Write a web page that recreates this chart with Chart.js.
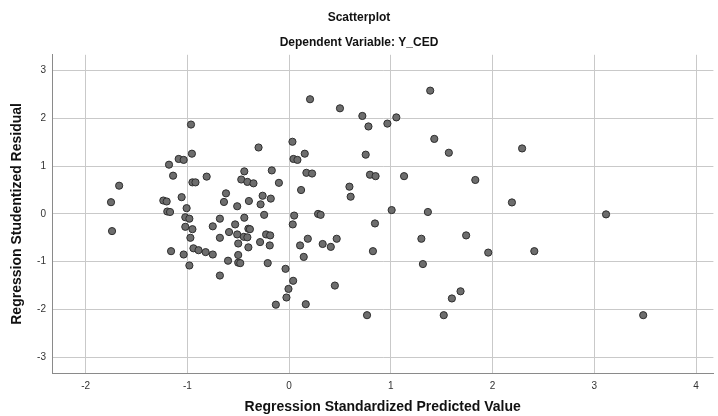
<!DOCTYPE html>
<html>
<head>
<meta charset="utf-8">
<script src="https://cdn.jsdelivr.net/npm/chart.js@4"></script>
<style>
  html, body { margin: 0; padding: 0; background: #fff; }
  #wrap { width: 718px; height: 416px; }
</style>
</head>
<body>
<div id="wrap"><canvas id="scatterChart" width="718" height="416"></canvas></div>
<script>
// standardized predicted value (x) and studentized residual (y)
const predicted = [
  -1.75, -1.67, -1.74, -1.236, -1.203, -1.197, -1.17, -1.18, -1.14, -1.16,
  -1.085, -1.036, -1.056, -1.007, -1.02, -0.98, -1.02, -0.95, -0.97, -1.036,
  -0.94, -0.89, -0.82, -0.75, -0.98, -0.964, -0.955, -0.95, -0.92, -0.81,
  -0.68, -0.75, -0.68, -0.62, -0.64, -0.68, -0.59, -0.60, -0.53, -0.51,
  -0.51, -0.50, -0.50, -0.50, -0.48, -0.47, -0.44, -0.44, -0.445, -0.41,
  -0.41, -0.35, -0.40, -0.385, -0.40, -0.395, -0.30, -0.28, -0.26, -0.245,
  -0.285, -0.226, -0.186, -0.19, -0.21, -0.18, -0.17, -0.10, -0.13, -0.035,
  -0.026, -0.006, 0.04, 0.033, 0.043, 0.082, 0.05, 0.036, 0.118, 0.154,
  0.17, 0.226, 0.108, 0.144, 0.184, 0.164, 0.206, 0.285, 0.31, 0.33,
  0.41, 0.468, 0.45, 0.50, 0.593, 0.605, 0.72, 0.78, 0.753, 0.795,
  0.85, 0.844, 0.824, 0.766, 0.966, 1.054, 1.008, 1.13, 1.30, 1.315,
  1.364, 1.387, 1.427, 1.57, 1.52, 1.60, 1.685, 1.74, 1.83, 1.957,
  2.19, 2.29, 2.41, 3.115, 3.48
];
const residual = [
  0.245, 0.59, -0.36, 0.28, 0.26, 0.05, 0.04, 1.03, 0.80, -0.78,
  1.15, 1.13, 0.35, 0.12, -0.07, -0.10, -0.27, -0.32, -0.50, -0.85,
  -0.72, -0.76, -0.80, -0.85, -1.08, 1.87, 1.26, 0.66, 0.66, 0.78,
  -0.10, -0.26, -0.50, 0.43, 0.25, -1.29, -0.38, -0.98, -0.22, 0.16,
  -0.43, -0.62, -0.86, -1.02, -1.03, 0.72, 0.89, -0.08, -0.48, -0.49,
  0.67, 0.64, -0.31, -0.32, -0.70, 0.27, 1.39, 0.20, 0.38, -0.02,
  -0.59, -0.43, -0.45, -0.66, -1.03, 0.32, 0.91, 0.65, -1.90, -1.15,
  -1.75, -1.57, -1.40, 1.51, 1.15, 1.13, -0.035, -0.22, 0.50, 1.26,
  0.86, 0.845, -0.66, -0.90, -0.52, -1.89, 2.40, 0.0, -0.02, -0.63,
  -0.69, -0.52, -1.50, 2.21, 0.57, 0.36, 2.05, 1.83, 1.24, 0.82,
  0.79, -0.20, -0.78, -2.12, 1.89, 2.02, 0.08, 0.79, -0.52, -1.05,
  0.04, 2.58, 1.57, 1.28, -2.12, -1.77, -1.62, -0.45, 0.71, -0.81,
  0.24, 1.37, -0.78, -0.01, -2.12
];
const xTicks = [-2, -1, 0, 1, 2, 3, 4];
const yTicks = [-3, -2, -1, 0, 1, 2, 3];

const points = predicted.map((x, i) => ({ x: x, y: residual[i] }));

const fontFamily = "'Liberation Sans', Arial, sans-serif";
const gridColor = "#c9c9c9";
const axisColor = "#8a8a8a";

new Chart(document.getElementById("scatterChart"), {
    type: "scatter",
    data: {
        datasets: [{
            label: "Y_CED",
            data: points,
            backgroundColor: "#6d6d6d",
            borderColor: "#2e2e2e",
            borderWidth: 1,
            pointRadius: 3.6,
            pointHoverRadius: 3.6
        }]
    },
    options: {
        responsive: false,
        animation: false,
        layout: {
            padding: { left: 4, right: 4, top: 8, bottom: 0 }
        },
        plugins: {
            legend: { display: false },
            tooltip: { enabled: false },
            title: {
                display: true,
                text: "Scatterplot",
                color: "#111",
                font: { family: fontFamily, size: 12, weight: "bold" },
                padding: { top: 2, bottom: 11 }
            },
            subtitle: {
                display: true,
                text: "Dependent Variable: Y_CED",
                color: "#111",
                font: { family: fontFamily, size: 12, weight: "bold" },
                padding: { top: 0, bottom: 5 }
            }
        },
        scales: {
            x: {
                type: "linear",
                min: -2.33,
                max: 4.17,
                afterBuildTicks: s => { s.ticks = xTicks.map(v => ({ value: v })); },
                afterFit: s => { s.height = 43; },
                grid: { color: gridColor, lineWidth: 1, drawTicks: false },
                border: { color: axisColor, width: 1 },
                ticks: {
                    color: "#333",
                    padding: 7,
                    font: { family: fontFamily, size: 10 }
                },
                title: {
                    display: true,
                    text: "Regression Standardized Predicted Value",
                    color: "#111",
                    font: { family: fontFamily, size: 14, weight: "bold" },
                    padding: { top: 0, bottom: 0 }
                }
            },
            y: {
                type: "linear",
                min: -3.33,
                max: 3.33,
                afterBuildTicks: s => { s.ticks = yTicks.map(v => ({ value: v })); },
                afterFit: s => { s.width = 48; },
                grid: { color: gridColor, lineWidth: 1, drawTicks: false },
                border: { color: axisColor, width: 1 },
                ticks: {
                    color: "#333",
                    padding: 6,
                    font: { family: fontFamily, size: 10 }
                },
                title: {
                    display: true,
                    text: "Regression Studentized Residual",
                    color: "#111",
                    font: { family: fontFamily, size: 14, weight: "bold" },
                    padding: { top: 5, bottom: 0 }
                }
            }
        }
    }
});
</script>
</body>
</html>
